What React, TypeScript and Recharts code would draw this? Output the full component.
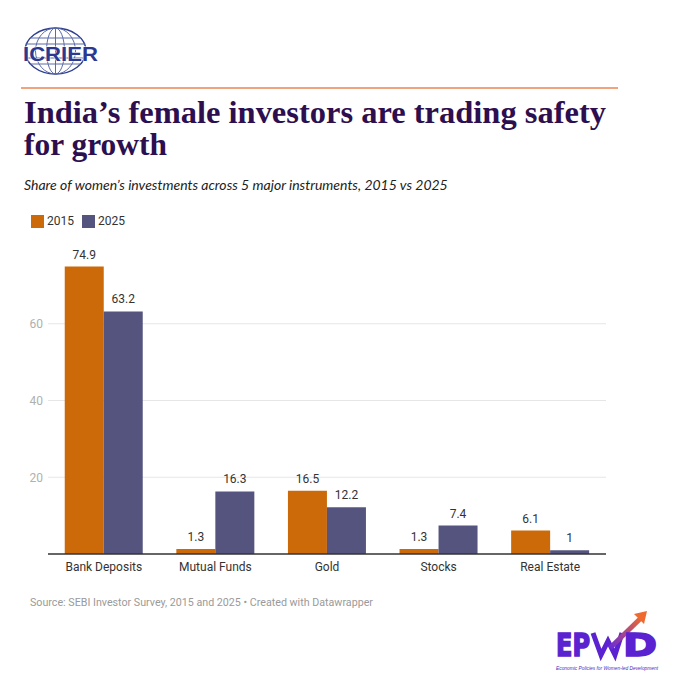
import React from 'react';
import { BarChart, Bar, XAxis, YAxis, CartesianGrid, LabelList } from 'recharts';

const categories = ['Bank Deposits', 'Mutual Funds', 'Gold', 'Stocks', 'Real Estate'];
const share2015 = [74.9, 1.3, 16.5, 1.3, 6.1];
const share2025 = [63.2, 16.3, 12.2, 7.4, 1];
const yTicks = [20, 40, 60];

const ORANGE = '#cc6a0a';
const PURPLE = '#55547e';
const TITLE_FONT = "'Liberation Serif', 'Times New Roman', serif";

const data = categories.map((name, i) => ({ name, y2015: share2015[i], y2025: share2025[i] }));

const IcrierLogo: React.FC = () => (
    <svg width={84} height={54} style={{ position: 'absolute', left: 18, top: 25 }}>
        <g fill="none" stroke="#5b6aa8" strokeWidth={1}>
            <ellipse cx={37.5} cy={26} rx={30.5} ry={23} strokeWidth={1.5} stroke="#2f3f8f" />
            <ellipse cx={37.5} cy={26} rx={20} ry={23} />
            <ellipse cx={37.5} cy={26} rx={9} ry={23} />
            <line x1={37.5} y1={3} x2={37.5} y2={49} />
            <line x1={12} y1={13} x2={63} y2={13} />
            <line x1={7.5} y1={19} x2={67.5} y2={19} />
            <line x1={7.5} y1={33} x2={67.5} y2={33} />
            <line x1={12} y1={39} x2={63} y2={39} />
        </g>
        <text x={5} y={36} fontFamily="'Liberation Sans', Arial, sans-serif" fontWeight={700} fontSize={21}
            textLength={75} lengthAdjust="spacingAndGlyphs" fill="#2b3990" stroke="#ffffff" strokeWidth={1} paintOrder="stroke">ICRIER</text>
    </svg>
);

const EpwdLogo: React.FC = () => (
    <svg width={120} height={72} style={{ position: 'absolute', left: 550, top: 605 }}>
        <defs>
            <linearGradient id="arrowGrad" x1="0" y1="1" x2="1" y2="0">
                <stop offset="0%" stopColor="#6a2bd8" />
                <stop offset="100%" stopColor="#ee6a2e" />
            </linearGradient>
        </defs>
        <text x={6} y={51} fontFamily="'DejaVu Sans', sans-serif" fontWeight={700} fontSize={32}
            textLength={34} lengthAdjust="spacingAndGlyphs" fill="#5a22d0" stroke="#5a22d0" strokeWidth={1.6}>EP</text>
        <path d="M43,28 L51,50 L58,36 L65,50 L72,28" fill="none" stroke="#5a22d0" strokeWidth={5} strokeLinejoin="miter" />
        <path d="M60,43 L92,12" fill="none" stroke="url(#arrowGrad)" strokeWidth={5} />
        <path d="M84,9 L97,6 L94,19 Z" fill="#ee6a2e" />
        <text x={73} y={51} fontFamily="'DejaVu Sans', sans-serif" fontWeight={700} fontSize={32}
            textLength={34} lengthAdjust="spacingAndGlyphs" fill="#5a22d0" stroke="#5a22d0" strokeWidth={1.6}>D</text>
        <text x={6} y={65} fontFamily="'Liberation Sans', Arial, sans-serif" fontStyle="italic" fontSize={4.5}
            textLength={102} lengthAdjust="spacingAndGlyphs" fill="#4b2cc0">Economic Policies for Women-led Development</text>
    </svg>
);

const LegendItem: React.FC<{ color: string; label: string; left: number }> = ({ color, label, left }) => (
    <div style={{ position: 'absolute', left, top: 214, display: 'flex', alignItems: 'center' }}>
        <div style={{ width: 13, height: 13, backgroundColor: color }} />
        <span style={{ marginLeft: 3, fontFamily: 'Roboto, sans-serif', fontSize: 12, color: '#333' }}>{label}</span>
    </div>
);

export default function App() {
    return (
        <div style={{ position: 'absolute', left: 0, top: 0, width: 680, height: 680, background: '#fff', overflow: 'hidden' }}>
            <IcrierLogo />
            <div style={{ position: 'absolute', left: 21, top: 87, width: 597, height: 2, background: '#f2a27c' }} />
            <svg width={680} height={80} style={{ position: 'absolute', left: 0, top: 90 }}>
                <text x={24} y={33} fontFamily={TITLE_FONT} fontWeight={700} fontSize={31} fill="#2d0f50"
                    textLength={582} lengthAdjust="spacingAndGlyphs">India’s female investors are trading safety</text>
                <text x={24} y={65} fontFamily={TITLE_FONT} fontWeight={700} fontSize={31} fill="#2d0f50"
                    textLength={143} lengthAdjust="spacingAndGlyphs">for growth</text>
            </svg>
            <div style={{
                position: 'absolute', left: 24, top: 176,
                fontFamily: 'Lato, sans-serif', fontStyle: 'italic', fontSize: 14, color: '#222',
            }}>
                Share of women’s investments across 5 major instruments, 2015 vs 2025
            </div>
            <LegendItem color={ORANGE} label="2015" left={31} />
            <LegendItem color={PURPLE} label="2025" left={82} />

            <div style={{ position: 'absolute', left: 0, top: 227 }}>
                <BarChart width={680} height={370} data={data}
                    margin={{ top: 20, right: 74, left: 0, bottom: 0 }}
                    barCategoryGap="15%" barGap={0}>
                    <CartesianGrid vertical={false} stroke="#e6e6e6" horizontalValues={yTicks} />
                    <XAxis dataKey="name" height={43} tickLine={false}
                        axisLine={{ stroke: '#333', strokeWidth: 1.5 }}
                        tick={{ fontFamily: 'Roboto, sans-serif', fontSize: 12, fill: '#333' }} />
                    <YAxis width={48} domain={[0, 80]} ticks={yTicks} axisLine={false} tickLine={false}
                        tickSize={5} tickMargin={0}
                        tick={{ fontFamily: 'Roboto, sans-serif', fontSize: 12, fill: '#b0b0b0' }} />
                    <Bar dataKey="y2015" fill={ORANGE} isAnimationActive={false}>
                        <LabelList dataKey="y2015" position="top" offset={8}
                            style={{ fontFamily: 'Roboto, sans-serif', fontSize: 12, fill: '#333' }} />
                    </Bar>
                    <Bar dataKey="y2025" fill={PURPLE} isAnimationActive={false}>
                        <LabelList dataKey="y2025" position="top" offset={8}
                            style={{ fontFamily: 'Roboto, sans-serif', fontSize: 12, fill: '#333' }} />
                    </Bar>
                </BarChart>
            </div>

            <div style={{
                position: 'absolute', left: 30, top: 596,
                fontFamily: 'Roboto, sans-serif', fontSize: 10.7, color: '#9a9a9a',
            }}>
                Source: SEBI Investor Survey, 2015 and 2025 • Created with Datawrapper
            </div>
            <EpwdLogo />
        </div>
    );
}
